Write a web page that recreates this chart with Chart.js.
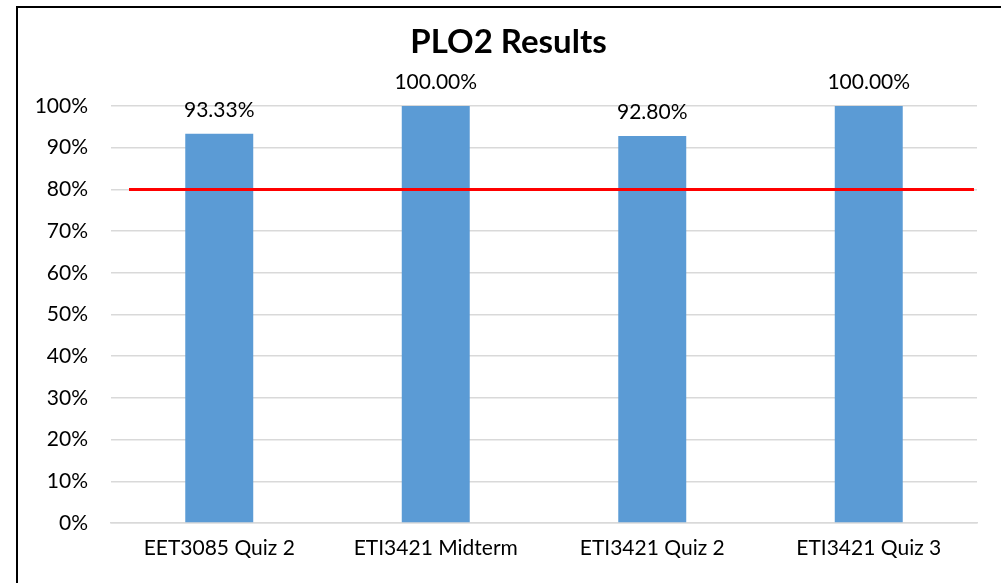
<!DOCTYPE html>
<html>
<head>
<meta charset="utf-8">
<script src="https://cdn.jsdelivr.net/npm/chart.js@4"></script>
<style>
  html, body { margin: 0; padding: 0; background: #fff; overflow: hidden; }
  #wrap { position: relative; width: 1001px; height: 583px; }
</style>
</head>
<body>
<div id="wrap"><canvas id="plo2Chart"></canvas></div>
<script>
// chart data
const categories = ['EET3085 Quiz 2', 'ETI3421 Midterm', 'ETI3421 Quiz 2', 'ETI3421 Quiz 3'];
const results = [93.33, 100.00, 92.80, 100.00];
const target = 80;
const yTicks = [0, 10, 20, 30, 40, 50, 60, 70, 80, 90, 100];

const FONT = 'Lato, "Liberation Sans", sans-serif';

// black frame (top + left edges visible in the picture)
const framePlugin = {
    id: 'frame',
    beforeDraw(chart) {
        const c = chart.ctx;
        c.save();
        c.fillStyle = '#fff';
        c.fillRect(0, 0, chart.width, chart.height);
        c.strokeStyle = '#000';
        c.lineWidth = 2;
        c.beginPath();
        c.moveTo(17, chart.height);
        c.lineTo(17, 7);
        c.lineTo(chart.width, 7);
        c.stroke();
        c.restore();
    }
};

// red target line at 80%
const targetPlugin = {
    id: 'targetLine',
    afterDatasetsDraw(chart) {
        const area = chart.chartArea;
        const y = chart.scales.y.getPixelForValue(target);
        const c = chart.ctx;
        c.save();
        c.strokeStyle = '#ff0000';
        c.lineWidth = 3;
        c.beginPath();
        c.moveTo(area.left + 18, y);
        c.lineTo(area.right - 3, y);
        c.stroke();
        c.restore();
    }
};

// value labels above bars
const labelPlugin = {
    id: 'barLabels',
    afterDatasetsDraw(chart) {
        const c = chart.ctx;
        const meta = chart.getDatasetMeta(0);
        c.save();
        c.font = '21px ' + FONT;
        c.fillStyle = '#000';
        c.textAlign = 'center';
        c.textBaseline = 'middle';
        meta.data.forEach(function (bar, i) {
            c.fillText(results[i].toFixed(2) + '%', bar.x, bar.y - 24);
        });
        c.restore();
    }
};

new Chart(document.getElementById('plo2Chart'), {
    type: 'bar',
    data: {
        labels: categories,
        datasets: [{
            label: 'PLO2',
            data: results,
            backgroundColor: '#5b9bd5',
            borderWidth: 0,
            barPercentage: 0.314,
            categoryPercentage: 1.0
        }]
    },
    options: {
        responsive: true,
        maintainAspectRatio: false,
        animation: false,
        layout: { padding: { left: 16, right: 0, top: 7, bottom: 23 } },
        plugins: {
            legend: { display: false },
            tooltip: { enabled: false },
            title: {
                display: true,
                text: 'PLO2 Results',
                color: '#000',
                font: { family: FONT, size: 33, weight: 'bold', lineHeight: 1.2 },
                padding: { top: 16, bottom: 43.4 }
            }
        },
        scales: {
            x: {
                grid: { display: false, drawTicks: false },
                border: { display: true, color: '#d9d9d9', width: 1.5 },
                ticks: { color: '#000', font: { family: FONT, size: 21 }, padding: 13, maxRotation: 0 },
                afterFit(scale) { scale.height = 37; }
            },
            y: {
                min: 0,
                max: 100,
                afterBuildTicks(scale) { scale.ticks = yTicks.map(v => ({ value: v })); },
                ticks: {
                    color: '#000',
                    font: { family: FONT, size: 21 },
                    padding: 23,
                    callback: v => v + '%'
                },
                grid: { color: '#d9d9d9', lineWidth: 1.5, drawTicks: false },
                border: { display: false },
                afterFit(scale) { scale.width = 95; }
            },
            y2: {
                position: 'right',
                display: true,
                ticks: { display: false },
                grid: { display: false, drawTicks: false },
                border: { display: false },
                afterFit(scale) { scale.width = 24; }
            }
        }
    },
    plugins: [framePlugin, targetPlugin, labelPlugin]
});
</script>
</body>
</html>
